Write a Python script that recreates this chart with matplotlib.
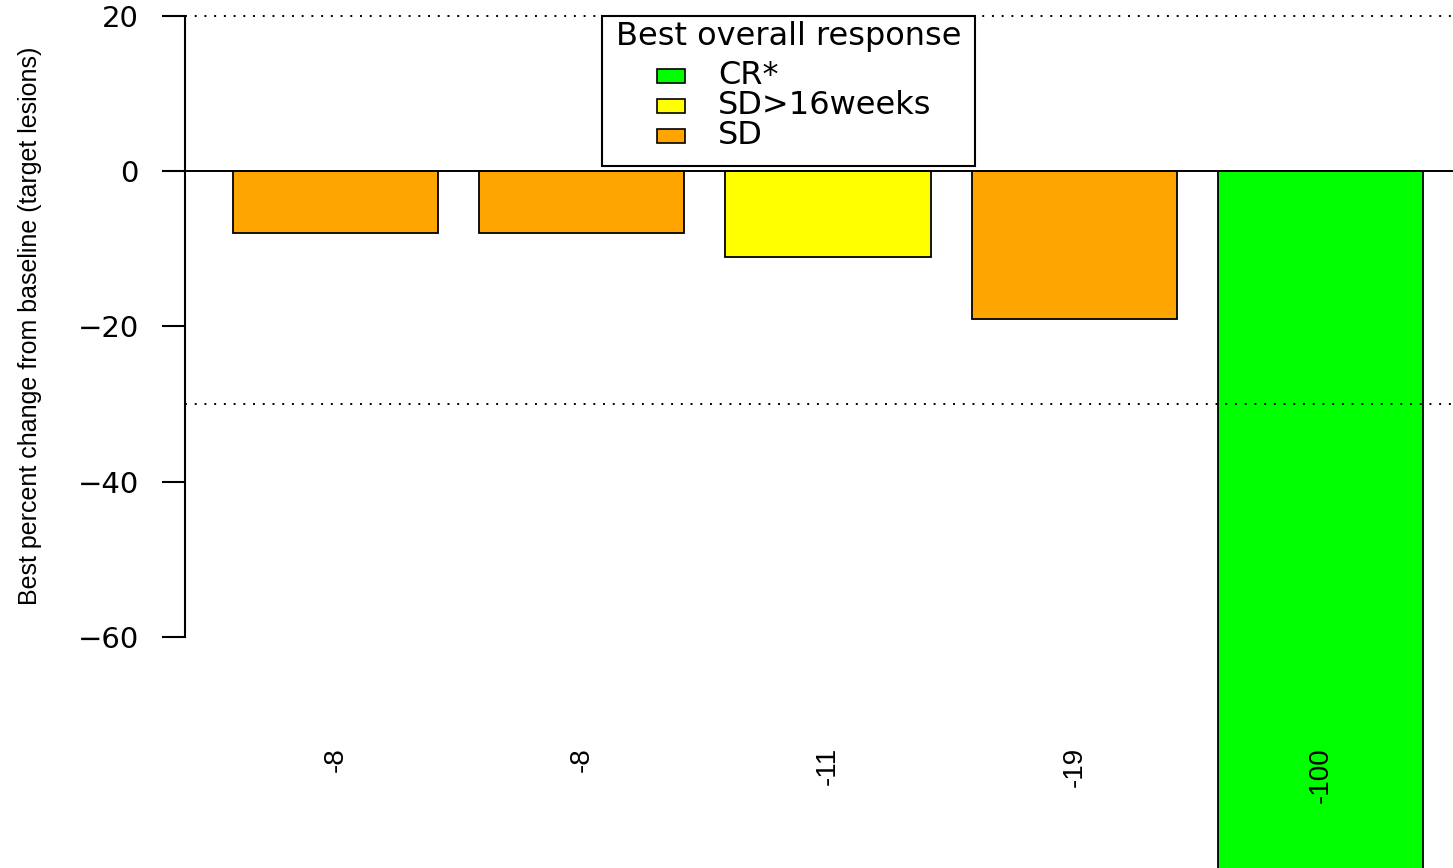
import matplotlib
matplotlib.use("Agg")
import matplotlib.pyplot as plt
from matplotlib.patches import Rectangle

# data
values = [-8, -8, -11, -19, -100]
responses = ["SD", "SD", "SD>16weeks", "SD", "CR*"]
legend_labels = ["CR*", "SD>16weeks", "SD"]
colours = {"CR*": "#00FF00", "SD>16weeks": "#FFFF00", "SD": "#FFA500"}
yticks = [20, 0, -20, -40, -60]
ref_lines = [20, -30]

W, H = 1453, 868
fig = plt.figure(figsize=(W / 100, H / 100), dpi=100)

def fx(x):
    return x / W

def fy(y):
    return 1 - y / H

# R barplot style: bar width 1, space 0.2, plot is cropped on the right/bottom
left_px = 185.4
ax = fig.add_axes([fx(left_px), 0, 1 - fx(left_px), 1])
pos = [0.7 + 1.2 * i for i in range(len(values))]
ax.bar(pos, values, width=1.0, color=[colours[r] for r in responses],
       edgecolor="black", linewidth=1.3, zorder=2)
ax.set_xlim(-0.032, -0.032 + (W - left_px) / 205.2)
ax.set_ylim(-89.76, 22.06)

ax.axhline(0, color="black", lw=1.4, zorder=3)
for r in ref_lines:
    ax.axhline(r, color="black", lw=1.4, ls=(0, (1, 4)), zorder=3)

for s in ["top", "right", "bottom"]:
    ax.spines[s].set_visible(False)
ax.spines["left"].set_bounds(-60, 20)
ax.spines["left"].set_linewidth(1.5)
ax.set_xticks([])
ax.set_yticks(yticks)
ax.tick_params(axis="y", direction="out", length=16.5, width=1.5, pad=17,
               labelsize=21)
for lab in ax.get_yticklabels():
    lab.set_family("DejaVu Sans")

for p, v in zip(pos, values):
    ax.text(p, -74.2, str(v), rotation=90, ha="center", va="top",
            fontsize=20, family="Liberation Sans", zorder=4)

fig.text(fx(30), fy(326), "Best percent change from baseline (target lesions)",
         rotation=90, ha="center", va="center", fontsize=18,
         family="Liberation Sans")

# legend box, drawn the way R's legend() lays it out
box = Rectangle((fx(602), fy(166)), (975 - 602) / W, 150 / H,
                transform=fig.transFigure, facecolor="white",
                edgecolor="black", lw=1.5, zorder=5)
fig.add_artist(box)
fig.text(fx(788.5), fy(37), "Best overall response", ha="center",
         va="center", fontsize=23, family="DejaVu Sans", zorder=6)
for i, lab in enumerate(legend_labels):
    yc = 76 + 30 * i
    sw = Rectangle((fx(657), fy(yc + 7)), 28 / W, 14 / H,
                   transform=fig.transFigure, facecolor=colours[lab],
                   edgecolor="black", lw=1.2, zorder=6)
    fig.add_artist(sw)
    fig.text(fx(718), fy(yc), lab, ha="left", va="center", fontsize=23,
             family="DejaVu Sans", zorder=6)

fig.savefig("out.png", dpi=100)
